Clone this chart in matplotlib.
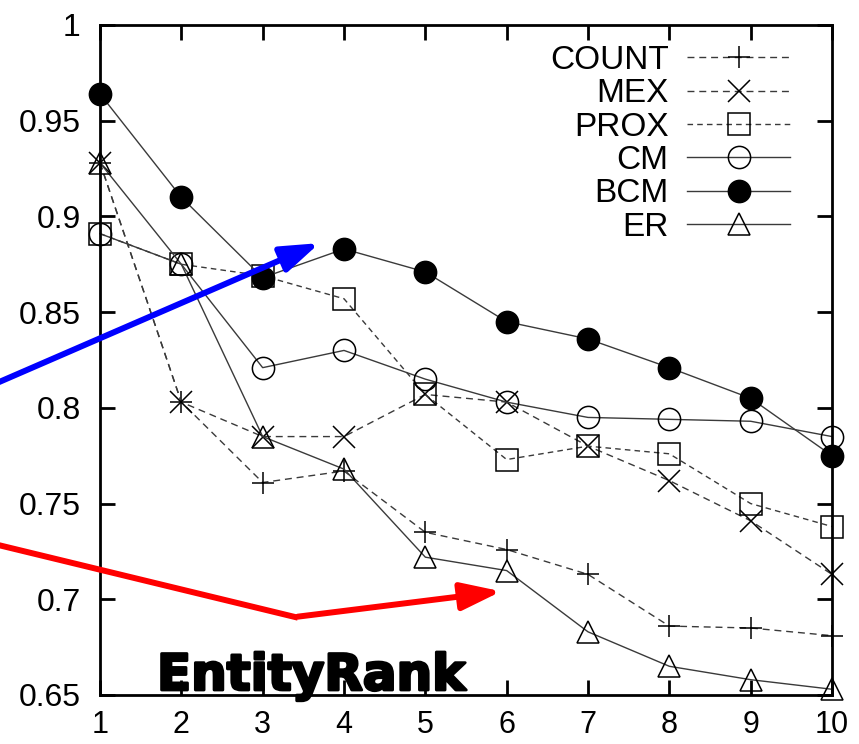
import matplotlib
matplotlib.use("Agg")
import matplotlib.pyplot as plt
import matplotlib.patheffects as pe
from matplotlib.patches import FancyArrowPatch

plt.rcParams['font.family'] = ['Liberation Sans', 'DejaVu Sans']

# values
ranks = [1, 2, 3, 4, 5, 6, 7, 8, 9, 10]
count = [0.928, 0.803, 0.761, 0.767, 0.735, 0.726, 0.713, 0.686, 0.685, 0.681]
mex = [0.928, 0.803, 0.785, 0.785, 0.807, 0.803, 0.780, 0.762, 0.741, 0.713]
prox = [0.891, 0.875, 0.869, 0.857, 0.807, 0.773, 0.780, 0.776, 0.750, 0.738]
cm = [0.891, 0.875, 0.821, 0.830, 0.815, 0.803, 0.795, 0.794, 0.793, 0.785]
bcm = [0.964, 0.910, 0.868, 0.883, 0.871, 0.845, 0.836, 0.821, 0.805, 0.775]
er = [0.928, 0.875, 0.785, 0.768, 0.722, 0.715, 0.683, 0.665, 0.658, 0.653]

y_ticks = [0.65, 0.7, 0.75, 0.8, 0.85, 0.9, 0.95, 1.0]
y_labels = ['0.65', '0.7', '0.75', '0.8', '0.85', '0.9', '0.95', '1']

LINE = '#3a3a3a'

fig = plt.figure(figsize=(8.59, 7.44), dpi=100)
ax = fig.add_axes([100 / 859, 1 - 695 / 744, 732 / 859, 670 / 744])

series = [
    ('COUNT', count, '+', 'none', (0, (5, 3.5))),
    ('MEX', mex, 'x', 'none', (0, (5, 3.5))),
    ('PROX', prox, 's', 'none', (0, (4, 3))),
    ('CM', cm, 'o', 'none', '-'),
    ('BCM', bcm, 'o', 'black', '-'),
    ('ER', er, '^', 'none', '-'),
]
for name, vals, mk, fc, ls in series:
    ax.plot(ranks, vals, color=LINE, lw=1.0, ls=ls, marker=mk,
            markersize=16, markerfacecolor=fc, markeredgecolor='black',
            markeredgewidth=1.1, label=name, clip_on=False)

ax.set_xlim(1, 10)
ax.set_ylim(0.65, 1.0)
ax.set_xticks(ranks)
ax.set_yticks(y_ticks)
ax.set_yticklabels(y_labels)
ax.tick_params(direction='in', top=True, right=True, length=11, width=2,
               labelsize=23)
ax.tick_params(axis='y', pad=14)
ax.tick_params(axis='x', pad=11, labelsize=22)
for sp in ax.spines.values():
    sp.set_linewidth(2)

leg = ax.legend(loc='upper right', bbox_to_anchor=(0.975, 1.005), frameon=False,
                fontsize=24, markerfirst=False, handlelength=3.1,
                handletextpad=0.55, labelspacing=0.07, borderpad=0.2)

# annotation text and arrows (figure pixel positions)
W, H = 859, 744
fig.text(157 / W, 1 - 690 / H, 'EntityRank', fontsize=36, fontweight='bold',
         family='DejaVu Sans', color='black', ha='left', va='baseline',
         path_effects=[pe.withStroke(linewidth=2, foreground='black')])

blue = FancyArrowPatch((-10 / W, 1 - 386 / H), (322 / W, 1 - 242 / H),
                       transform=fig.transFigure,
                       arrowstyle='-|>,head_length=10.5,head_width=3.6',
                       mutation_scale=2.2, color='blue', lw=4.3)
fig.patches.append(blue)

fig.lines.append(plt.Line2D([-10 / W, 295 / W], [1 - 543 / H, 1 - 617 / H],
                            transform=fig.transFigure, color='red', lw=4.3,
                            solid_joinstyle='miter'))
red = FancyArrowPatch((295 / W, 1 - 617 / H), (504 / W, 1 - 591 / H),
                      transform=fig.transFigure,
                      arrowstyle='-|>,head_length=11,head_width=3.8',
                      mutation_scale=2.2, color='red', lw=4.3)
fig.patches.append(red)

fig.savefig('out.png', dpi=100)
